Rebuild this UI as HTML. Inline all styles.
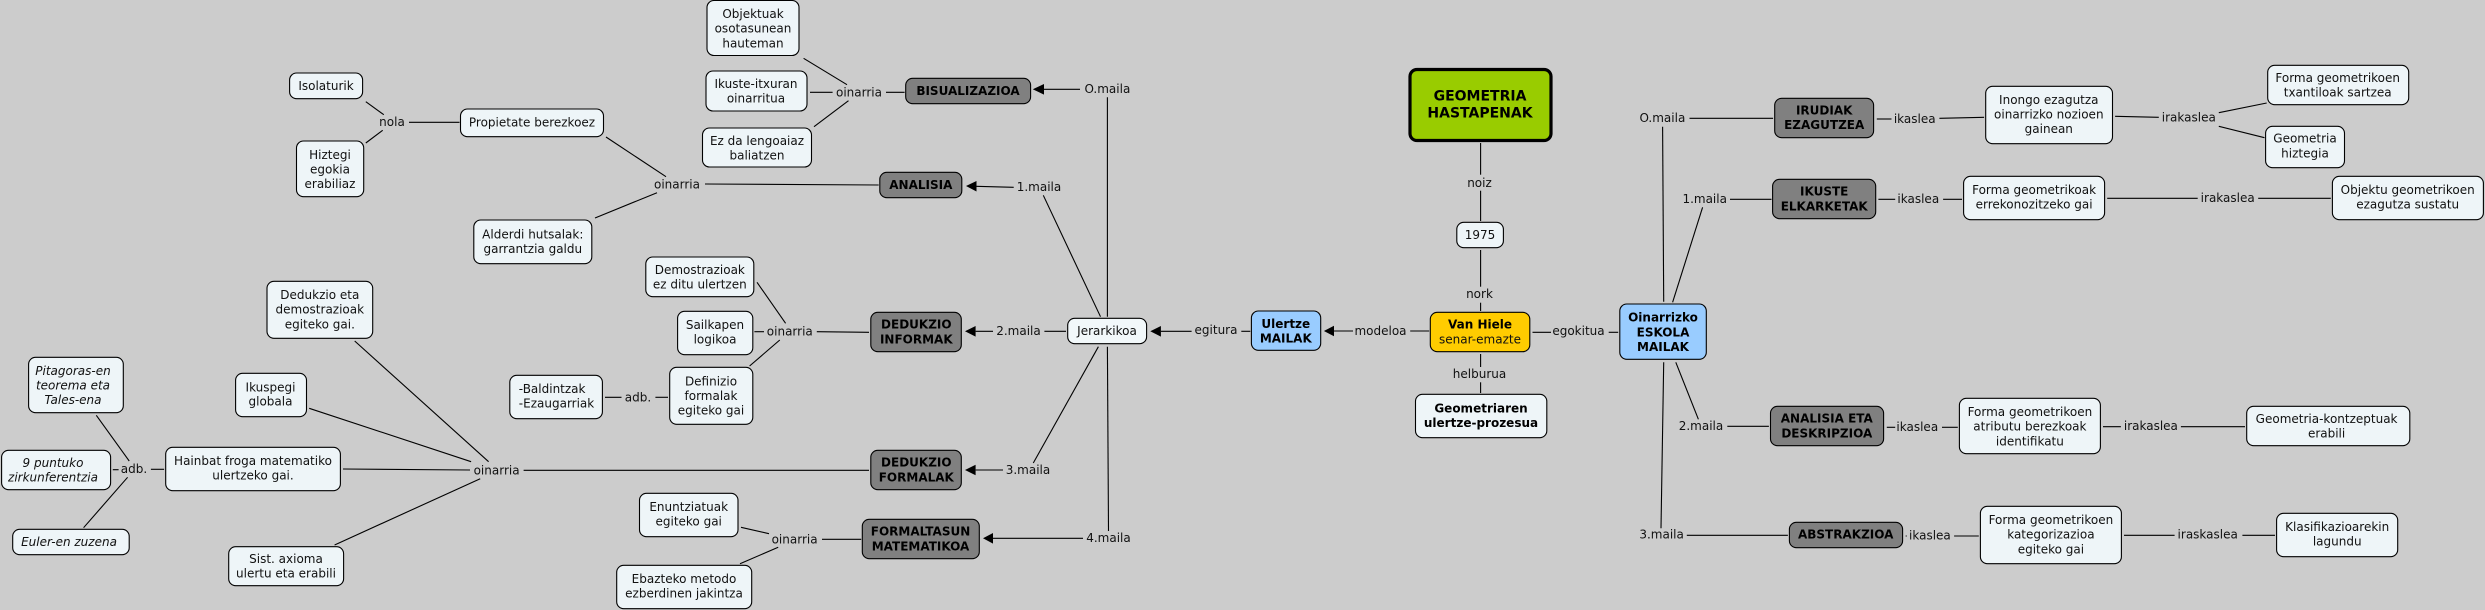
<!DOCTYPE html>
<html><head><meta charset="utf-8"><title>Geometria hastapenak</title>
<style>
html,body{margin:0;padding:0;background:#ccc;width:2485px;height:610px;overflow:hidden}
svg{display:block}
text{font-family:"DejaVu Sans","Liberation Sans",sans-serif;font-size:12px;fill:#111;text-anchor:middle;dominant-baseline:central}
.b{font-weight:bold;fill:#000}
.i{font-style:italic}
.l{text-anchor:start}
.g{font-size:14px;font-weight:bold;fill:#000}
rect{stroke:#000;stroke-width:1.1}
.w{fill:#eef5f8}.d{fill:#808080}.u{fill:#99ccff}.y{fill:#ffcc00}
line{stroke:#000;stroke-width:1.1}
polygon{fill:#000}
</style></head><body>
<svg xmlns="http://www.w3.org/2000/svg" width="2485" height="610" viewBox="0 0 2485 610">
<rect x="0" y="0" width="2485" height="610" style="fill:#ccc;stroke:none"/>
<!-- connectors -->
<line x1="365.8" y1="101.7" x2="383.8" y2="114.7"/><line x1="409" y1="122.3" x2="459.5" y2="122.3"/><line x1="382.7" y1="130.3" x2="365.8" y2="143"/>
<line x1="606" y1="137" x2="666" y2="176.7"/><line x1="657" y1="192.7" x2="595" y2="218"/><line x1="705" y1="184" x2="878.7" y2="185"/>
<line x1="803.6" y1="58.3" x2="847" y2="84.7"/><line x1="810" y1="92.3" x2="832.6" y2="92.3"/><line x1="814" y1="126.7" x2="848.5" y2="100.7"/>
<line x1="886" y1="92.3" x2="904.6" y2="92.3"/><line x1="1044" y1="89.3" x2="1080" y2="89.3"/>
<line x1="1107.4" y1="97.3" x2="1107.4" y2="316.7"/><line x1="1107.4" y1="346.7" x2="1108.5" y2="531"/>
<line x1="976" y1="186.3" x2="1013.7" y2="187.3"/><line x1="1043.3" y1="195.3" x2="1100.5" y2="316.7"/>
<line x1="1480.6" y1="143" x2="1480.6" y2="174.7"/><line x1="1480.6" y1="190.7" x2="1480.6" y2="221"/><line x1="1480.6" y1="250" x2="1480.6" y2="286.7"/><line x1="1480.6" y1="302.7" x2="1480.6" y2="311"/>
<line x1="1480.6" y1="354" x2="1480.6" y2="367"/><line x1="1480.6" y1="382.3" x2="1480.6" y2="393"/>
<line x1="1410.2" y1="331" x2="1429.2" y2="331"/><line x1="1334" y1="331" x2="1353" y2="331"/>
<line x1="1241.3" y1="331.3" x2="1250.3" y2="331.3"/><line x1="1160.9" y1="331.3" x2="1191.6" y2="331.3"/>
<line x1="1044.4" y1="331.3" x2="1066" y2="331.3"/><line x1="975.6" y1="331.3" x2="993" y2="331.3"/>
<line x1="816.8" y1="331.7" x2="869" y2="332.3"/><line x1="754.4" y1="331.7" x2="764" y2="331.7"/>
<line x1="757" y1="282.3" x2="785.6" y2="323.3"/><line x1="779.8" y1="340" x2="749.6" y2="366"/>
<line x1="605" y1="397.3" x2="621.5" y2="397.3"/><line x1="655.4" y1="397.3" x2="668" y2="397.3"/>
<line x1="96.3" y1="415.3" x2="129.2" y2="461"/><line x1="112.8" y1="469.7" x2="118.6" y2="469.7"/><line x1="127.6" y1="477.3" x2="83.6" y2="527.7"/><line x1="150.9" y1="469.3" x2="164.1" y2="469.3"/>
<line x1="343" y1="469" x2="470" y2="470"/><line x1="354.7" y1="341" x2="488.6" y2="461.7"/><line x1="309.2" y1="408.3" x2="471.1" y2="461.7"/><line x1="334.6" y1="545" x2="480.2" y2="478.7"/>
<line x1="523.6" y1="470.3" x2="869" y2="470.3"/><line x1="975.6" y1="470" x2="1003" y2="470"/><line x1="1033.3" y1="463" x2="1098.4" y2="346.7"/>
<line x1="993" y1="538.3" x2="1083" y2="538.3"/><line x1="822" y1="539.3" x2="861.2" y2="539.3"/>
<line x1="741" y1="527.3" x2="769" y2="533.7"/><line x1="778.2" y1="547.3" x2="740" y2="563.7"/>
<line x1="1689.5" y1="118.3" x2="1773.1" y2="118.3"/><line x1="1876.8" y1="119" x2="1891.5" y2="119"/><line x1="1939.4" y1="118.3" x2="1984.1" y2="117.3"/>
<line x1="2115.1" y1="116.3" x2="2158.8" y2="117.3"/><line x1="2218.8" y1="112.7" x2="2266.7" y2="103"/><line x1="2218.8" y1="126.3" x2="2264.5" y2="137.7"/>
<line x1="1730" y1="199.3" x2="1771.5" y2="199.3"/><line x1="1878.4" y1="199.3" x2="1895.2" y2="199.3"/><line x1="1943.1" y1="199.3" x2="1962" y2="199.3"/>
<line x1="2107.2" y1="198.3" x2="2197.7" y2="198.3"/><line x1="2258.2" y1="198.3" x2="2330.8" y2="198.3"/>
<line x1="1662.6" y1="126.7" x2="1663.7" y2="301.7"/><line x1="1702.6" y1="207.3" x2="1672.6" y2="302.3"/>
<line x1="1532.5" y1="332.3" x2="1551" y2="332.3"/><line x1="1608.7" y1="332.3" x2="1618.2" y2="332.3"/>
<line x1="1663.7" y1="362.3" x2="1661" y2="528.3"/><line x1="1675.8" y1="362.3" x2="1698.4" y2="419.3"/>
<line x1="1727.3" y1="426.3" x2="1768.9" y2="426.3"/><line x1="1886.8" y1="427.3" x2="1895.2" y2="427.3"/><line x1="1942" y1="427.3" x2="1957.8" y2="427.3"/>
<line x1="2103" y1="426.7" x2="2120.9" y2="426.7"/><line x1="2180.9" y1="426.7" x2="2245" y2="426.7"/>
<line x1="1686.8" y1="535.3" x2="1787.9" y2="535.3"/><line x1="1905.7" y1="536" x2="1906.7" y2="536"/><line x1="1954.1" y1="536" x2="1978.8" y2="536"/>
<line x1="2124" y1="535.3" x2="2174.6" y2="535.3"/><line x1="2242.4" y1="535.3" x2="2275" y2="535.3"/>
<!-- arrowheads -->
<polygon points="1032.8,89.3 1044,84 1044,94.6"/>
<polygon points="966,186 976.5,181 976.5,191.5"/>
<polygon points="965,331.3 975.6,326 975.6,336.6"/>
<polygon points="965,470 975.6,464.7 975.6,475.3"/>
<polygon points="983,538.3 993,533 993,543.6"/>
<polygon points="1150.3,331.3 1160.9,326 1160.9,336.6"/>
<polygon points="1323.9,331 1334,325.7 1334,336.3"/>
<!-- nodes -->
<rect class="w" x="707" y="0.5" width="92" height="55" rx="7"/><text x="753" y="14">Objektuak</text><text x="753" y="28.7">osotasunean</text><text x="753" y="43.3">hauteman</text>
<rect class="w" x="706" y="71" width="101" height="40" rx="7"/><text x="756" y="84">Ikuste-itxuran</text><text x="756" y="98.7">oinarritua</text>
<rect class="w" x="702.5" y="128" width="109" height="39" rx="7"/><text x="757" y="141">Ez da lengoaiaz</text><text x="757" y="155.7">baliatzen</text>
<rect class="w" x="289.6" y="73" width="73" height="25.7" rx="7"/><text x="326" y="86">Isolaturik</text>
<rect class="w" x="460.5" y="109" width="143" height="27.7" rx="7"/><text x="532" y="122.3">Propietate berezkoez</text>
<rect class="w" x="296.5" y="141" width="67.2" height="55.7" rx="7"/><text x="330" y="155">Hiztegi</text><text x="330" y="169.5">egokia</text><text x="330" y="184">erabiliaz</text>
<rect class="w" x="473.8" y="220" width="118" height="43.7" rx="7"/><text x="532.8" y="234.3">Alderdi hutsalak:</text><text x="532.8" y="249">garrantzia galdu</text>
<rect class="w" x="645.8" y="257" width="108" height="39.7" rx="7"/><text x="699.8" y="270">Demostrazioak</text><text x="699.8" y="284.7">ez ditu ulertzen</text>
<rect class="w" x="267" y="281.3" width="105.7" height="57" rx="7"/><text x="319.8" y="295">Dedukzio eta</text><text x="319.8" y="309.7">demostrazioak</text><text x="319.8" y="324.3">egiteko gai.</text>
<rect class="w" x="677.6" y="311.3" width="75.2" height="43.4" rx="7"/><text x="715" y="325">Sailkapen</text><text x="715" y="339.7">logikoa</text>
<rect class="w" x="669.7" y="367.3" width="83.1" height="57" rx="7"/><text x="711" y="381.3">Definizio</text><text x="711" y="396">formalak</text><text x="711" y="410.7">egiteko gai</text>
<rect class="w" x="509.8" y="375.3" width="92.6" height="43.4" rx="7"/><text class="l" x="518.8" y="389">-Baldintzak</text><text class="l" x="518.8" y="403.7">-Ezaugarriak</text>
<rect class="w" x="235.6" y="373.3" width="70.9" height="43.4" rx="7"/><text x="270.5" y="387.3">Ikuspegi</text><text x="270.5" y="401.7">globala</text>
<rect class="w" x="28.6" y="357.3" width="94.7" height="55.4" rx="7"/><text class="i" x="73" y="371">Pitagoras-en</text><text class="i" x="73" y="385.3">teorema eta</text><text class="i" x="73" y="400">Tales-ena</text>
<rect class="w" x="1.6" y="450.3" width="109" height="39.4" rx="7"/><text class="i" x="53" y="463">9 puntuko</text><text class="i" x="53" y="477.7">zirkunferentzia</text>
<rect class="w" x="12.7" y="529.3" width="116.5" height="25.4" rx="7"/><text class="i" x="69" y="542">Euler-en zuzena</text>
<rect class="w" x="165.7" y="447.3" width="174.7" height="43.4" rx="7"/><text x="253" y="461">Hainbat froga matematiko</text><text x="253" y="475.7">ulertzeko gai.</text>
<rect class="w" x="228.7" y="546.7" width="114.9" height="39" rx="7"/><text x="286" y="559">Sist. axioma</text><text x="286" y="573.3">ulertu eta erabili</text>
<rect class="w" x="639.5" y="493.3" width="98.5" height="43.4" rx="7"/><text x="688.7" y="507">Enuntziatuak</text><text x="688.7" y="521.7">egiteko gai</text>
<rect class="w" x="616.7" y="565.3" width="135" height="43.4" rx="7"/><text x="684" y="579">Ebazteko metodo</text><text x="684" y="593.7">ezberdinen jakintza</text>
<rect class="d" x="905.7" y="78.3" width="124.9" height="25.4" rx="7"/><text class="b" x="968" y="91">BISUALIZAZIOA</text>
<rect class="d" x="879.8" y="172.3" width="82" height="25.4" rx="7"/><text class="b" x="920.8" y="185">ANALISIA</text>
<rect class="d" x="870.8" y="312.3" width="90.5" height="39.4" rx="7"/><text class="b" x="916.3" y="324.7">DEDUKZIO</text><text class="b" x="916.3" y="339.3">INFORMAK</text>
<rect class="d" x="870.8" y="450.3" width="90.5" height="39.4" rx="7"/><text class="b" x="916.3" y="462.7">DEDUKZIO</text><text class="b" x="916.3" y="477.3">FORMALAK</text>
<rect class="d" x="862.3" y="519.3" width="117" height="39.4" rx="7"/><text class="b" x="920.5" y="531.7">FORMALTASUN</text><text class="b" x="920.5" y="546.3">MATEMATIKOA</text>
<rect x="1410" y="69.5" width="141" height="71" rx="7" style="fill:#99cc00;stroke-width:3.2"/><text class="g" x="1480" y="96.7">GEOMETRIA</text><text class="g" x="1480" y="113.7">HASTAPENAK</text>
<rect class="w" x="1456.8" y="222.3" width="46.6" height="25.4" rx="7"/><text x="1480" y="235">1975</text>
<rect class="y" x="1430.3" y="312.3" width="99.5" height="39.4" rx="7"/><text class="b" x="1480" y="324.7">Van Hiele</text><text x="1480" y="339.7">senar-emazte</text>
<rect class="w" x="1415.5" y="394.3" width="131.3" height="43.4" rx="7"/><text class="b" x="1481" y="408.3">Geometriaren</text><text class="b" x="1481" y="423">ulertze-prozesua</text>
<rect class="u" x="1251.4" y="311" width="69.3" height="39.3" rx="7"/><text class="b" x="1285.8" y="324">Ulertze</text><text class="b" x="1285.8" y="338.3">MAILAK</text>
<rect class="w" x="1067.7" y="318.3" width="78.9" height="25.4" rx="7" style="fill:#f2f8fa"/><text x="1107" y="331">Jerarkikoa</text>
<rect class="u" x="1619.8" y="304" width="86.5" height="55.3" rx="7"/><text class="b" x="1663" y="317.7">Oinarrizko</text><text class="b" x="1663" y="332.3">ESKOLA</text><text class="b" x="1663" y="347">MAILAK</text>
<rect class="d" x="1774.7" y="98.3" width="98.9" height="39.4" rx="7"/><text class="b" x="1824.2" y="110.3">IRUDIAK</text><text class="b" x="1824.2" y="125">EZAGUTZEA</text>
<rect class="w" x="1985.7" y="86.3" width="126.8" height="57.4" rx="7"/><text x="2048.8" y="100">Inongo ezagutza</text><text x="2048.8" y="114.3">oinarrizko nozioen</text><text x="2048.8" y="129">gainean</text>
<rect class="w" x="2267.7" y="65.3" width="141" height="39.4" rx="7"/><text x="2337.7" y="78">Forma geometrikoen</text><text x="2337.7" y="92.7">txantiloak sartzea</text>
<rect class="w" x="2265.6" y="126.3" width="78.9" height="41.4" rx="7"/><text x="2305" y="138.7">Geometria</text><text x="2305" y="153.3">hiztegia</text>
<rect class="d" x="1772.6" y="179.3" width="103.1" height="39.4" rx="7"/><text class="b" x="1824.2" y="191.7">IKUSTE</text><text class="b" x="1824.2" y="206.3">ELKARKETAK</text>
<rect class="w" x="1963.6" y="176.3" width="141" height="43.4" rx="7"/><text x="2034.1" y="190">Forma geometrikoak</text><text x="2034.1" y="204.7">errekonozitzeko gai</text>
<rect class="w" x="2332.4" y="176.3" width="151" height="43.4" rx="7"/><text x="2407.7" y="190">Objektu geometrikoen</text><text x="2407.7" y="204.7">ezagutza sustatu</text>
<rect class="d" x="1770.5" y="406.3" width="113.1" height="39.4" rx="7"/><text class="b" x="1826.8" y="418.7">ANALISIA ETA</text><text class="b" x="1826.8" y="433.3">DESKRIPZIOA</text>
<rect class="w" x="1959.4" y="398.3" width="141" height="55.4" rx="7"/><text x="2029.9" y="412">Forma geometrikoen</text><text x="2029.9" y="426.7">atributu berezkoak</text><text x="2029.9" y="441.3">identifikatu</text>
<rect class="w" x="2246.7" y="406.3" width="163.1" height="39.4" rx="7"/><text x="2326.6" y="419">Geometria-kontzeptuak</text><text x="2326.6" y="433.7">erabili</text>
<rect class="d" x="1789.4" y="522.3" width="113.2" height="25.4" rx="7"/><text class="b" x="1845.7" y="534.3">ABSTRAKZIOA</text>
<rect class="w" x="1980.4" y="506.3" width="141" height="57.4" rx="7"/><text x="2050.9" y="520">Forma geometrikoen</text><text x="2050.9" y="534.7">kategorizazioa</text><text x="2050.9" y="549.3">egiteko gai</text>
<rect class="w" x="2276.6" y="513.3" width="121.1" height="43.4" rx="7"/><text x="2337.2" y="527">Klasifikazioarekin</text><text x="2337.2" y="541.7">lagundu</text>
<!-- link labels -->
<text x="392" y="122">nola</text>
<text x="677" y="184.7">oinarria</text>
<text x="859" y="92.7">oinarria</text>
<text x="789.8" y="331.7">oinarria</text>
<text x="496.6" y="470.7">oinarria</text>
<text x="794.6" y="539.7">oinarria</text>
<text x="638" y="397.3">adb.</text>
<text x="134" y="469">adb.</text>
<text x="1107.4" y="89">O.maila</text>
<text x="1039" y="187">1.maila</text>
<text x="1018.5" y="331">2.maila</text>
<text x="1028" y="470">3.maila</text>
<text x="1108.5" y="538">4.maila</text>
<text x="1479.5" y="183">noiz</text>
<text x="1479.5" y="294">nork</text>
<text x="1479.5" y="374">helburua</text>
<text x="1380.5" y="331">modeloa</text>
<text x="1216" y="330">egitura</text>
<text x="1578.5" y="331">egokitua</text>
<text x="1662.4" y="118">O.maila</text>
<text x="1704.7" y="199">1.maila</text>
<text x="1701" y="426">2.maila</text>
<text x="1661.6" y="534.7">3.maila</text>
<text x="1914.7" y="119">ikaslea</text>
<text x="1918.3" y="199">ikaslea</text>
<text x="1917.3" y="427">ikaslea</text>
<text x="1929.9" y="535.7">ikaslea</text>
<text x="2188.8" y="117.7">irakaslea</text>
<text x="2227.7" y="198">irakaslea</text>
<text x="2150.9" y="426">irakaslea</text>
<text x="2207.7" y="534.7">iraskaslea</text>
</svg>
</body></html>
